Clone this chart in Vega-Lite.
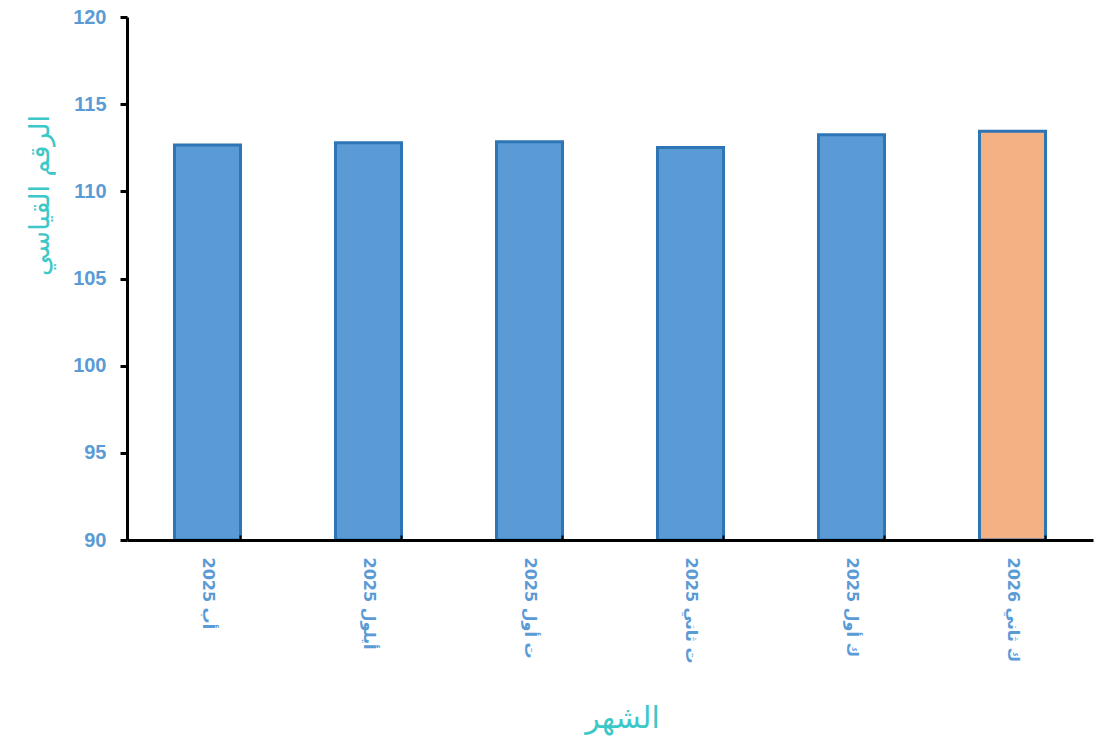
{
  "$schema": "https://vega.github.io/schema/vega-lite/v6.json",
  "autosize": "none",
  "width": 966,
  "height": 523,
  "padding": {"left": 127, "top": 17, "right": 6, "bottom": 196},
  "background": "white",
  "config": {"view": {"stroke": null}},
  "data": {
    "values": [
      {"month": "أب 2025", "value": 112.66, "latest": "no"},
      {"month": "أيلول 2025", "value": 112.79, "latest": "no"},
      {"month": "ت أول 2025", "value": 112.85, "latest": "no"},
      {"month": "ت ثاني 2025", "value": 112.51, "latest": "no"},
      {"month": "ك أول 2025", "value": 113.25, "latest": "no"},
      {"month": "ك ثاني 2026", "value": 113.45, "latest": "yes"}
    ]
  },
  "mark": {"type": "bar", "stroke": "#2e75b6", "strokeWidth": 3},
  "encoding": {
    "x": {
      "field": "month",
      "type": "nominal",
      "sort": null,
      "scale": {"paddingInner": 0.59, "paddingOuter": 0.295},
      "axis": {
        "zindex": 1,
        "title": "الشهر",
        "titleFont": "DejaVu Sans",
        "titleFontSize": 30,
        "titleFontWeight": "normal",
        "titleColor": "#3cc8c8",
        "titleX": 495,
        "titleY": 178,
        "titleBaseline": "middle",
        "labelAngle": 90,
        "labelFont": "DejaVu Sans",
        "labelFontSize": 16,
        "labelFontWeight": "bold",
        "labelColor": "#5b9bd5",
        "labelPadding": 22,
        "bandPosition": 1,
        "ticks": true,
        "tickSize": -5,
        "tickWidth": 2,
        "tickColor": "#000000",
        "domainColor": "#000000",
        "domainWidth": 3,
        "grid": false
      }
    },
    "y": {
      "field": "value",
      "type": "quantitative",
      "scale": {"domain": [90, 120], "zero": false, "nice": false},
      "axis": {
        "zindex": 1,
        "title": "الرقم القياسي",
        "titleFont": "DejaVu Sans",
        "titleFontSize": 27,
        "titleFontWeight": "normal",
        "titleColor": "#3cc8c8",
        "titleX": -87,
        "titleY": 178,
        "titleAngle": -90,
        "titleBaseline": "middle",
        "values": [90, 95, 100, 105, 110, 115, 120],
        "labelFont": "Liberation Sans",
        "labelFontSize": 20,
        "labelFontWeight": "bold",
        "labelColor": "#5b9bd5",
        "labelPadding": 14,
        "tickSize": 7,
        "tickWidth": 3,
        "tickColor": "#000000",
        "domainColor": "#000000",
        "domainWidth": 3,
        "grid": false
      }
    },
    "y2": {"datum": 90},
    "color": {
      "field": "latest",
      "type": "nominal",
      "scale": {"domain": ["no", "yes"], "range": ["#5b9bd5", "#f4b183"]},
      "legend": null
    }
  }
}
